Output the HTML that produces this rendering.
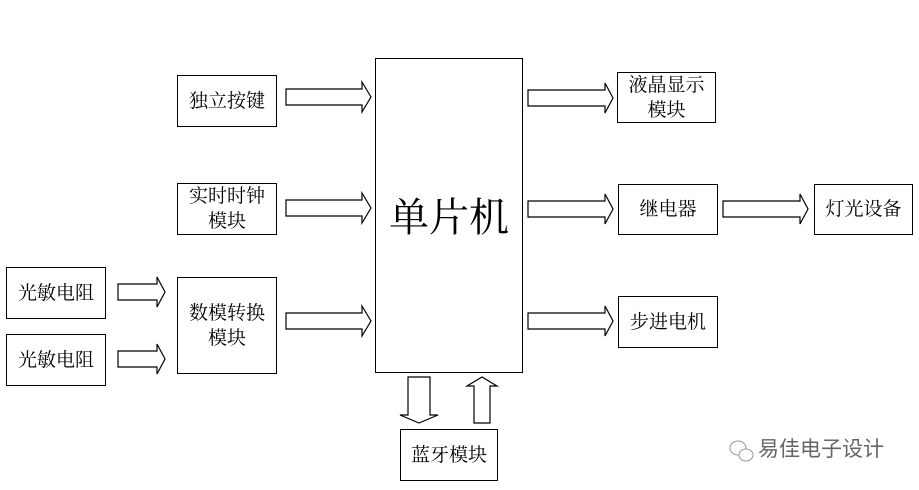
<!DOCTYPE html>
<html><head><meta charset="utf-8"><style>
body{margin:0;background:#fff;}
.b{position:absolute;border:1.3px solid #000;box-sizing:border-box;display:flex;align-items:center;justify-content:center;text-align:center;font-family:"Liberation Serif","Noto Serif CJK SC",serif;font-size:19px;line-height:25px;color:#000;background:#fff;}
</style></head><body>
<div style="position:relative;width:919px;height:490px;overflow:hidden">
<svg width="919" height="490" style="position:absolute;left:0;top:0" fill="#fff" stroke="#000" stroke-width="1.2">
<polygon points="286,89 362,89 362,82 371,97 362,112 362,105 286,105"/>
<polygon points="286,200 362,200 362,193 371,208 362,223 362,216 286,216"/>
<polygon points="286,313 362,313 362,306 371,321 362,336 362,329 286,329"/>
<polygon points="118,284 157,284 157,277 165,292 157,307 157,300 118,300"/>
<polygon points="118,351 157,351 157,344 165,359 157,374 157,367 118,367"/>
<polygon points="528,90 605,90 605,83 613,98 605,113 605,106 528,106"/>
<polygon points="528,201 605,201 605,194 613,209 605,224 605,217 528,217"/>
<polygon points="528,313 605,313 605,306 613,321 605,336 605,329 528,329"/>
<polygon points="723,201 800,201 800,194 808,209 800,224 800,217 723,217"/>
<polygon points="408,377 430,377 430,415 438,415 419,423 400,415 408,415"/>
<polygon points="474,423 490,423 490,386 497,386 482,377 467,386 474,386"/>
<g stroke="#999" stroke-width="1" fill="#fff">
<ellipse cx="738" cy="448" rx="8" ry="7"/>
<ellipse cx="746" cy="455" rx="7" ry="6"/>
</g>
</svg>
<div class="b" style="left:177px;top:75px;width:100px;height:52px">独立按键</div>
<div class="b" style="left:177px;top:183px;width:100px;height:52px">实时时钟<br>模块</div>
<div class="b" style="left:177px;top:277px;width:100px;height:97px">数模转换<br>模块</div>
<div class="b" style="left:6px;top:267px;width:100px;height:52px">光敏电阻</div>
<div class="b" style="left:6px;top:334px;width:100px;height:52px">光敏电阻</div>
<div class="b" style="left:375px;top:58px;width:148px;height:315px;font-size:40px;line-height:46px;padding-top:4px">单片机</div>
<div class="b" style="left:617px;top:72px;width:99px;height:51px">液晶显示<br>模块</div>
<div class="b" style="left:618px;top:184px;width:100px;height:51px">继电器</div>
<div class="b" style="left:814px;top:184px;width:99px;height:51px">灯光设备</div>
<div class="b" style="left:618px;top:296px;width:100px;height:52px">步进电机</div>
<div class="b" style="left:400px;top:429px;width:98px;height:52px">蓝牙模块</div>
<div style="position:absolute;left:758px;top:437px;font-family:'Liberation Sans','Noto Sans CJK SC',sans-serif;font-size:21px;line-height:26px;color:#666">易佳电子设计</div>
</div>
</body></html>
